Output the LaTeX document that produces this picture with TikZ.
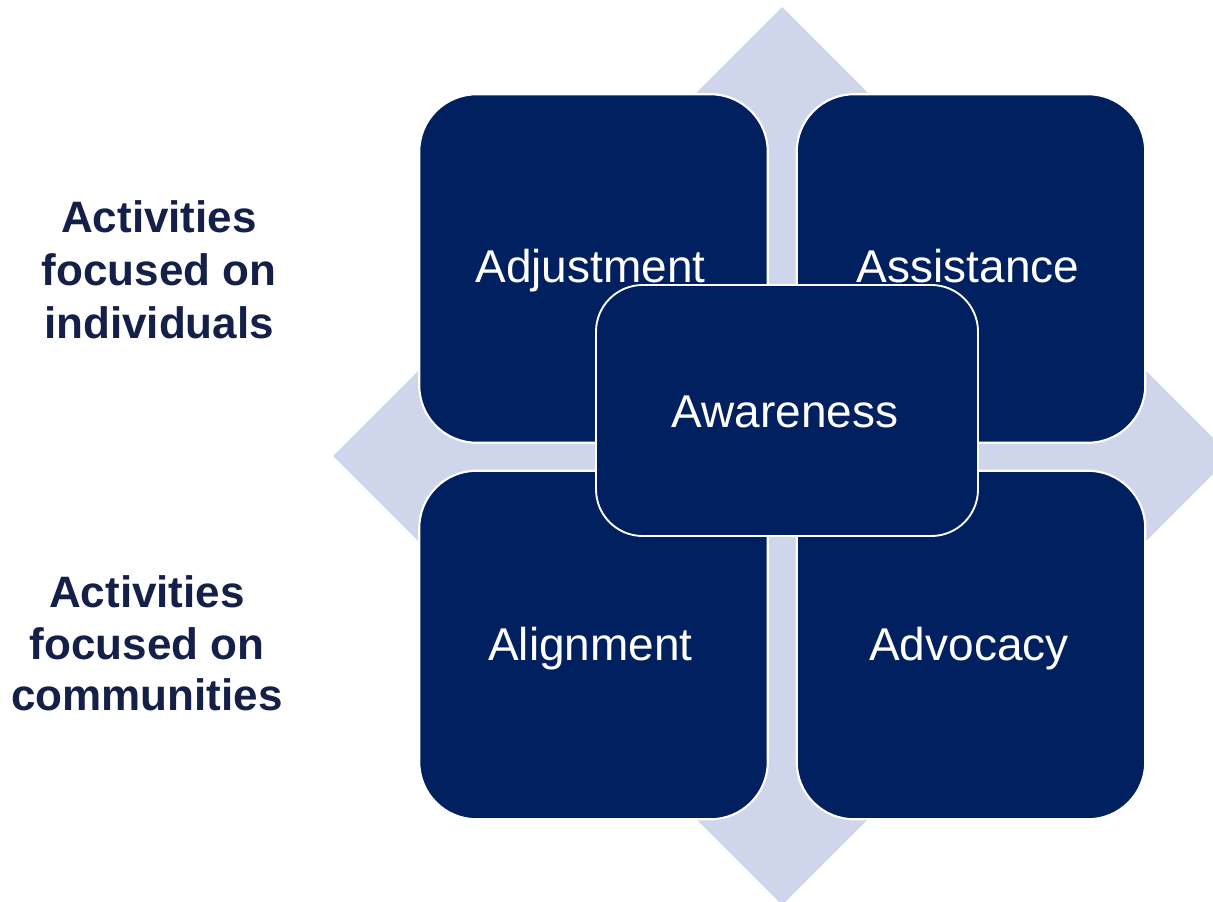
\documentclass[tikz,border=0pt]{standalone}
\usepackage{fontspec}
\setmainfont{Liberation Sans}
\definecolor{navy}{RGB}{0,32,96}
\definecolor{lav}{RGB}{207,213,234}
\definecolor{labelc}{RGB}{21,32,72}
\tikzset{
  quadbox/.style={draw=white, line width=1.6pt, fill=navy, rounded corners=43pt,
    minimum width=261.4pt, minimum height=261.4pt, inner sep=0pt},
  centerbox/.style={draw=white, line width=1.4pt, fill=navy, rounded corners=35pt,
    minimum width=286.5pt, minimum height=188.25pt, inner sep=0pt},
  boxtext/.style={text=white, anchor=base, inner sep=0pt, font=\fontsize{34.5}{40}\selectfont},
  sidetext/.style={text=labelc, anchor=base, inner sep=0pt, font=\bfseries\fontsize{33}{39}\selectfont}
}
\begin{document}
\begin{tikzpicture}[x=0.75pt, y=-0.75pt]
\useasboundingbox (0,0) rectangle (1213,902);
\clip (0,0) rectangle (1213,902);
% background diamond
\fill[lav] (782,7) -- (1231,456) -- (782,905) -- (333,456) -- cycle;
% quadrant boxes
\node[quadbox] (tl) at (593.5,268.5) {};
\node[quadbox] (tr) at (971,268.5) {};
\node[quadbox] (bl) at (593.5,645) {};
\node[quadbox] (br) at (971,645) {};
% centre box
\node[centerbox] (c) at (787,410.5) {};
% box texts
\node[boxtext] (tlt) at (590.5,282) {Adjustment};
\node[boxtext] (trt) at (968,282) {Assistance};
\node[boxtext] (ct) at (785,427) {Awareness};
\node[boxtext] (blt) at (590.5,660) {Alignment};
\node[boxtext] (brt) at (969,660) {Advocacy};
% side labels
\node[sidetext] (ia) at (159,233) {Activities};
\node[sidetext] (ib) at (159,286) {focused on};
\node[sidetext] (ic) at (159,338) {individuals};
\node[sidetext] (ca) at (147,607) {Activities};
\node[sidetext] (cb) at (147,659) {focused on};
\node[sidetext] (cc) at (147,710) {communities};
\end{tikzpicture}
\end{document}
